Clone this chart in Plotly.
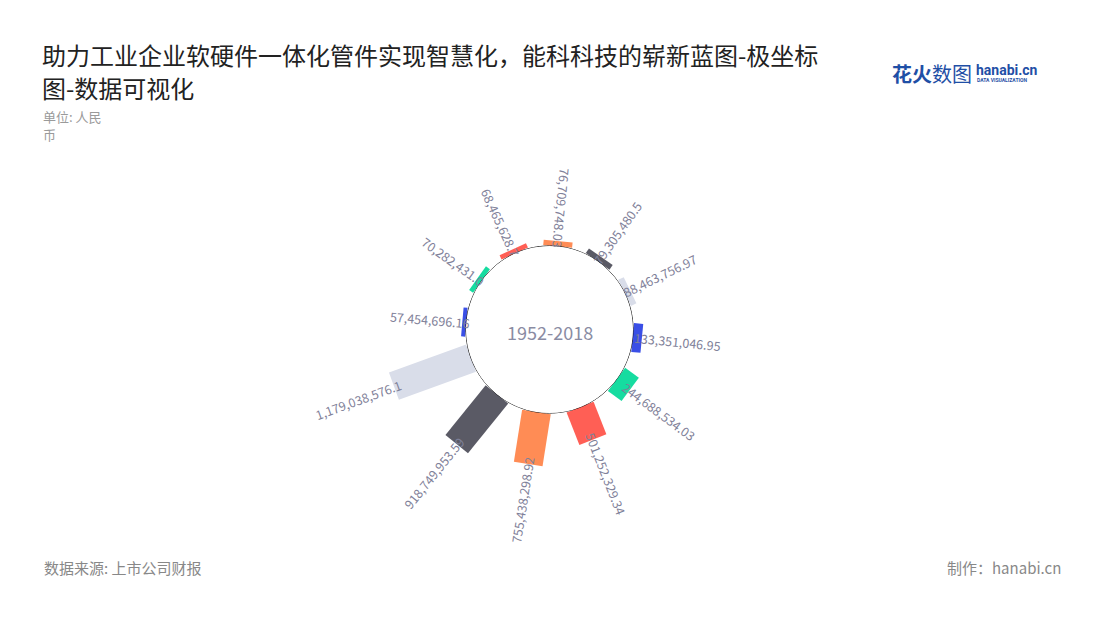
import math
import numpy as np
import plotly.graph_objects as go

# ---------------- data ----------------
values = [76709748.03, 79305480.5, 88463756.97, 133351046.95, 244688534.03,
          501252329.34, 755438298.92, 918749953.59, 1179038576.1,
          57454696.16, 70282431.0, 68465628.7]
angles = [84.4, 54.8, 26.0, -5.5, -36.6, -68.5, -99.0, -129.0, -160.0,
          175.0, 144.5, 114.6]
colors = ["#FF8C55", "#5A5A65", "#D9DDE9", "#3A4FE6", "#16DCA0", "#FF5F55",
          "#FF8C55", "#5A5A65", "#D9DDE9", "#3A4FE6", "#16DCA0", "#FF5F55"]
center_text = "1952-2018"
title_lines = ["助力工业企业软硬件一体化管件实现智慧化，能科科技的崭新蓝图-极坐标",
               "图-数据可视化"]
unit_lines = ["单位: 人民", "币"]
source_text = "数据来源: 上市公司财报"
maker_text = "制作：hanabi.cn"

# ---------------- layout geometry ----------------
W, H = 1100, 620
OFF = 8                         # page body margin in the browser
CX, CY = 549.5 - OFF, 329.5 - OFF
R = 200.0
HOLE_PX = 83.5
PX_PER_UNIT = 6.96e-8
RMAX = (R - HOLE_PX) / PX_PER_UNIT

dom_x = [(CX - R) / W, (CX + R) / W]
dom_y = [(H - CY - R) / H, (H - CY + R) / H]


def px(xp):
    return (xp - OFF) / W


def py(yp):
    return 1 - (yp - OFF) / H


FONT = "Noto Sans CJK SC"
LABEL_FS = 12.5
LABEL_COLOR = "#7F8199"

fig = go.Figure()

for v, a, c in zip(values, angles, colors):
    fig.add_trace(go.Scatterpolar(
        r=[0, v], theta=[a, a], mode="lines",
        line=dict(color=c, width=29),
        hoverinfo="skip", showlegend=False))

circ_theta = np.linspace(0, 360, 361)
fig.add_trace(go.Scatterpolar(
    r=[0] * len(circ_theta), theta=circ_theta, mode="lines",
    line=dict(color="#000000", width=1), cliponaxis=False,
    hoverinfo="skip", showlegend=False))

annotations = []


def text_len(s, fs):
    w = 0.0
    for ch in s:
        w += 0.27 * fs if ch in ",." else 0.555 * fs
    return w


for v, a in zip(values, angles):
    label = f"{v:,}"
    end_px = HOLE_PX + v * PX_PER_UNIT
    edge = end_px - 7
    L = text_len(label, LABEL_FS)
    mid = edge + L / 2
    rad = math.radians(a)
    x = mid * math.cos(rad)
    y = mid * math.sin(rad)
    if math.cos(rad) > 0.12:
        ta = -a
    else:
        ta = -(a + 180)
    while ta > 180:
        ta -= 360
    while ta <= -180:
        ta += 360
    annotations.append(dict(
        x=x, y=y, xref="x", yref="y", text=label, showarrow=False,
        textangle=ta, xanchor="center", yanchor="middle",
        font=dict(family=FONT, size=LABEL_FS, color=LABEL_COLOR)))

annotations.append(dict(
    x=0, y=-2, xref="x", yref="y", text=center_text, showarrow=False,
    font=dict(family=FONT, size=18, color="#8A8CA3")))

# title & texts
for i, line in enumerate(title_lines):
    annotations.append(dict(
        x=px(41), y=py(54 + 33 * i), xref="paper", yref="paper", text=line,
        showarrow=False, xanchor="left", yanchor="middle", align="left",
        borderpad=0,
        font=dict(family=FONT, size=24, color="#222222")))
for i, line in enumerate(unit_lines):
    annotations.append(dict(
        x=px(42), y=py(117 + 17 * i), xref="paper", yref="paper", text=line,
        showarrow=False, xanchor="left", yanchor="middle", align="left",
        borderpad=0,
        font=dict(family=FONT, size=13, color="#9A9A9A")))
annotations.append(dict(
    x=px(42), y=py(567), xref="paper", yref="paper", text=source_text,
    showarrow=False, xanchor="left", yanchor="middle",
    font=dict(family=FONT, size=15, color="#888888")))
annotations.append(dict(
    x=px(1063), y=py(567), xref="paper", yref="paper", text=maker_text,
    showarrow=False, xanchor="right", yanchor="middle",
    font=dict(family=FONT, size=15, color="#888888")))

# logo
annotations.append(dict(
    x=px(890), y=py(73), xref="paper", yref="paper", text="<b>花火</b>数图",
    showarrow=False, xanchor="left", yanchor="middle",
    font=dict(family=FONT, size=20, color="#1F4FA6")))
annotations.append(dict(
    x=px(974), y=py(70), xref="paper", yref="paper", text="<b>hanabi.cn</b>",
    showarrow=False, xanchor="left", yanchor="middle",
    font=dict(family="Roboto", size=14, color="#1F4FA6")))
annotations.append(dict(
    x=px(975), y=py(80), xref="paper", yref="paper", text="<b>DATA VISUALIZATION</b>",
    showarrow=False, xanchor="left", yanchor="middle",
    font=dict(family="Roboto", size=5, color="#1F4FA6")))

fig.update_layout(
    width=W, height=H,
    margin=dict(l=0, r=0, t=0, b=0),
    paper_bgcolor="#FFFFFF", plot_bgcolor="rgba(0,0,0,0)",
    showlegend=False,
    polar=dict(
        domain=dict(x=dom_x, y=dom_y),
        hole=HOLE_PX / R,
        bgcolor="rgba(0,0,0,0)",
        radialaxis=dict(range=[0, RMAX], visible=False),
        angularaxis=dict(visible=False, direction="counterclockwise", rotation=0),
    ),
    xaxis=dict(domain=dom_x, range=[-R, R], visible=False, fixedrange=True),
    yaxis=dict(domain=dom_y, range=[-R, R], visible=False, fixedrange=True),
    annotations=annotations,
)

fig.write_html("out.html")
